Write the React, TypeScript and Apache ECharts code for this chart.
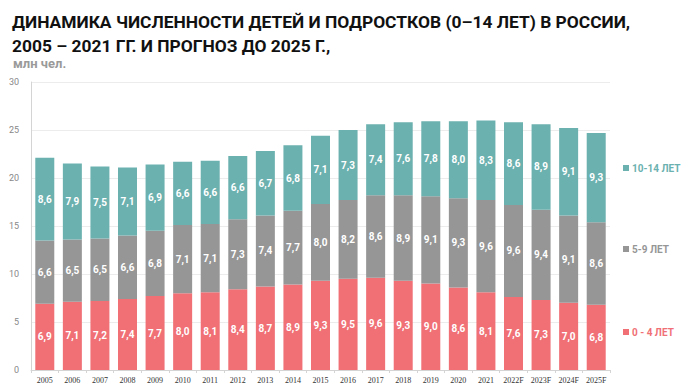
import React, { useEffect, useRef } from "react";
import * as echarts from "echarts";

const categories = ["2005","2006","2007","2008","2009","2010","2011","2012","2013","2014","2015","2016","2017","2018","2019","2020","2021","2022F","2023F","2024F","2025F"];
const age0to4 = [6.9,7.1,7.2,7.4,7.7,8.0,8.1,8.4,8.7,8.9,9.3,9.5,9.6,9.3,9.0,8.6,8.1,7.6,7.3,7.0,6.8];
const age5to9 = [6.6,6.5,6.5,6.6,6.8,7.1,7.1,7.3,7.4,7.7,8.0,8.2,8.6,8.9,9.1,9.3,9.6,9.6,9.4,9.1,8.6];
const age10to14 = [8.6,7.9,7.5,7.1,6.9,6.6,6.6,6.6,6.7,6.8,7.1,7.3,7.4,7.6,7.8,8.0,8.3,8.6,8.9,9.1,9.3];
const seriesNames = ["0 - 4 ЛЕТ", "5-9 ЛЕТ", "10-14 ЛЕТ"];
const colors = ["#F07076", "#969696", "#6BB1AF"];

export default function App() {
  const ref = useRef<HTMLDivElement>(null);
  useEffect(() => {
    const chart = echarts.init(ref.current!, null, { renderer: "svg" });
    const datasets = [age0to4, age5to9, age10to14];
    const fmt = (p: any) => String(p.value.toFixed(1)).replace(".", ",");
    chart.setOption({
      animation: false,
      textStyle: { fontFamily: "Roboto" },
      title: [
        {
          text: "ДИНАМИКА ЧИСЛЕННОСТИ ДЕТЕЙ И ПОДРОСТКОВ (0–14 ЛЕТ) В РОССИИ,\n2005 – 2021 ГГ. И ПРОГНОЗ ДО 2025 Г.,",
          left: 7, top: 5,
          textStyle: { fontFamily: "Roboto", fontWeight: "bold", fontSize: 17.4, color: "#111", lineHeight: 24 },
        },
        {
          text: "млн чел.",
          left: 8, top: 52,
          textStyle: { fontFamily: "Roboto", fontWeight: "bold", fontSize: 13, color: "#9a9a9a" },
        },
      ],
      legend: [2, 1, 0].map((i, k) => ({
        data: [seriesNames[i]],
        left: 618,
        top: [158, 239, 322][k],
        orient: "vertical",
        itemWidth: 6,
        itemHeight: 6,
        itemGap: 4,
        icon: "rect",
        selectedMode: false,
        textStyle: { color: colors[i], fontSize: 10, fontWeight: "bold", fontFamily: "Roboto", padding: [0, 0, 0, -2] },
      })),
      grid: { left: 31, right: 88, top: 82, bottom: 22, containLabel: false },
      xAxis: {
        type: "category",
        data: categories,
        axisLine: { lineStyle: { color: "#d4d4d4" } },
        axisTick: { show: true, lineStyle: { color: "#d4d4d4" }, length: 3 },
        axisLabel: { color: "#333", fontSize: 8, fontFamily: "Liberation Serif", margin: 6, interval: 0 },
      },
      yAxis: {
        type: "value",
        min: 0, max: 30, interval: 5,
        axisLine: { show: true, lineStyle: { color: "#d4d4d4" } },
        axisLabel: { color: "#888", fontSize: 9, margin: 12 },
        splitLine: { lineStyle: { color: "#ececec" } },
      },
      series: datasets.map((d, i) => ({
        name: seriesNames[i],
        type: "bar",
        stack: "total",
        data: d,
        barWidth: 19,
        itemStyle: { color: colors[i] },
        label: {
          show: true,
          position: "inside",
          formatter: fmt,
          color: "#fff",
          fontWeight: "bold",
          fontSize: 10,
        },
      })),
    });
    return () => chart.dispose();
  }, []);
  return <div ref={ref} style={{ position: "fixed", left: 0, top: 0, width: 698, height: 392, background: "#fff" }} />;
}
